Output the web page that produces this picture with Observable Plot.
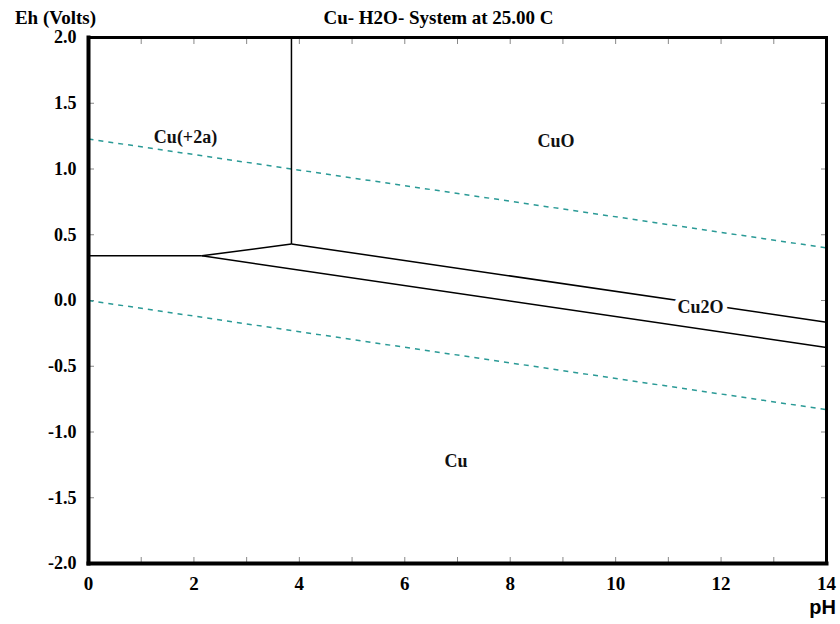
<!DOCTYPE html>
<html>
<head>
<meta charset="utf-8">
<script src="https://cdn.jsdelivr.net/npm/d3@7"></script>
<script src="https://cdn.jsdelivr.net/npm/@observablehq/plot@0.6"></script>
<style>
  body { margin: 0; background: #fff; }
</style>
</head>
<body>
<div id="chart"></div>
<script>
// Stability-field boundaries (solid black)
const boundaryNames = ["Cu+2/CuO", "Cu+2/Cu", "Cu+2/Cu2O", "CuO/Cu2O", "Cu2O/Cu"];
const boundaryPH1 = [3.85, 0, 2.15, 3.85, 2.15];
const boundaryEh1 = [0.43, 0.34, 0.34, 0.43, 0.34];
const boundaryPH2 = [3.85, 2.15, 3.85, 14, 14];
const boundaryEh2 = [2.0, 0.34, 0.43, -0.165, -0.357];

// Water stability lines (teal dashed)
const waterNames = ["O2/H2O", "H2O/H2"];
const waterPH1 = [0, 0];
const waterEh1 = [1.228, 0.0];
const waterPH2 = [14, 14];
const waterEh2 = [0.40, -0.83];

// Field labels
const fieldNames = ["Cu(+2a)", "CuO", "Cu2O", "Cu"];
const fieldPH = [1.84, 8.87, 11.61, 6.97];
const fieldEh = [1.24, 1.21, -0.053, -1.224];

// Ticks
const xTicks = [0, 2, 4, 6, 8, 10, 12, 14];
const xMinorTicks = [1, 2, 3, 4, 5, 6, 7, 8, 9, 10, 11, 12, 13];
const yTicks = [-2, -1.5, -1, -0.5, 0, 0.5, 1, 1.5, 2];
const yTickLabels = ["-2.0", "-1.5", "-1.0", "-0.5", "0.0", "0.5", "1.0", "1.5", "2.0"];
const yInnerTicks = [-1.5, -1, -0.5, 0, 0.5, 1, 1.5];

const title = "Cu- H2O- System at 25.00 C";
const yLabel = "Eh (Volts)";
const xLabel = "pH";

const boundaries = boundaryNames.map((n, i) => ({n, x1: boundaryPH1[i], y1: boundaryEh1[i], x2: boundaryPH2[i], y2: boundaryEh2[i]}));
const water = waterNames.map((n, i) => ({n, x1: waterPH1[i], y1: waterEh1[i], x2: waterPH2[i], y2: waterEh2[i]}));
const fields = fieldNames.map((n, i) => ({n, x: fieldPH[i], y: fieldEh[i]}));

const serif = "'Liberation Serif', 'DejaVu Serif', serif";

const chart = Plot.plot({
  width: 840,
  height: 624,
  marginLeft: 88,
  marginRight: 14,
  marginTop: 37,
  marginBottom: 61,
  style: {fontFamily: serif, fontWeight: "bold", fontSize: "18px", background: "#fff", overflow: "visible"},
  x: {domain: [0, 14]},
  y: {domain: [-2, 2]},
  marks: [
    // inner gray ticks
    Plot.axisY(yInnerTicks, {anchor: "left", tickSize: 6, dx: 6, text: null, stroke: "#888", strokeWidth: 1}),
    Plot.axisY(yInnerTicks, {anchor: "right", tickSize: 6, dx: -6, text: null, stroke: "#888", strokeWidth: 1}),
    Plot.axisX(xMinorTicks, {anchor: "top", tickSize: 6, dy: 6, text: null, stroke: "#888", strokeWidth: 1}),
    Plot.axisX(xMinorTicks, {anchor: "bottom", tickSize: 6, dy: -6, text: null, stroke: "#888", strokeWidth: 1}),
    // tick labels
    Plot.axisY(yTicks, {anchor: "left", tickSize: 0, tickPadding: 12, tickFormat: (d, i) => yTickLabels[i], fontSize: 18, fontWeight: "bold", label: null}),
    Plot.axisX(xTicks, {anchor: "bottom", tickSize: 0, tickPadding: 13, fontSize: 19, fontWeight: "bold", label: null}),
    // water lines
    Plot.link(water, {x1: "x1", y1: "y1", x2: "x2", y2: "y2", stroke: "#2a9a96", strokeWidth: 1.5, strokeDasharray: "5,5"}),
    // boundaries
    Plot.link(boundaries, {x1: "x1", y1: "y1", x2: "x2", y2: "y2", stroke: "#000", strokeWidth: 1.5}),
    // field labels
    Plot.text(fields, {x: "x", y: "y", text: "n", fontSize: 18, fontWeight: "bold", fill: "#111", stroke: "#fff", strokeWidth: 9}),
    // frame
    Plot.frame({stroke: "#000", strokeWidth: 3}),
    Plot.frame({anchor: "left", stroke: "#000", strokeWidth: 4}),
    Plot.frame({anchor: "bottom", stroke: "#000", strokeWidth: 4}),
    // title and axis labels
    Plot.text([title], {frameAnchor: "top", lineAnchor: "middle", dx: -19, dy: -20, text: d => d, fontSize: 19, fontWeight: "bold", letterSpacing: -0.4}),
    Plot.text([yLabel], {frameAnchor: "top-left", lineAnchor: "middle", dx: -33, dy: -20, textAnchor: "middle", text: d => d, fontSize: 19, fontWeight: "bold", letterSpacing: -0.6}),
    Plot.text([xLabel], {frameAnchor: "bottom-right", lineAnchor: "middle", dx: -4, dy: 44, textAnchor: "middle", text: d => d, fontSize: 20, fontWeight: "bold", fontFamily: "'Liberation Sans', Arial, sans-serif"})
  ]
});
document.getElementById("chart").append(chart);
</script>
</body>
</html>
